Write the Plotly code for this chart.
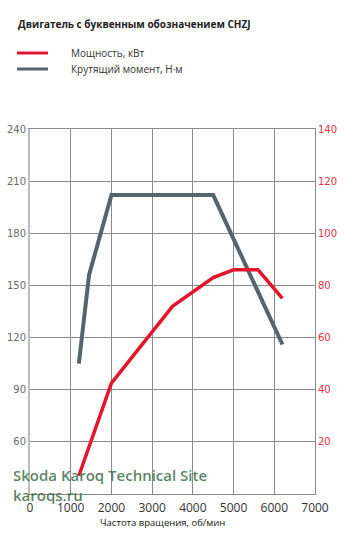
import plotly.graph_objects as go

# Data
power_rpm = [1200, 2000, 3500, 4000, 4500, 5000, 5600, 6200]
power_kw = [7, 42.5, 72, 77.5, 83, 86, 86, 75]

torque_rpm = [1200, 1450, 2000, 4500, 6200]
torque_nm = [105, 156, 202, 202, 116]

x_ticks = [0, 1000, 2000, 3000, 4000, 5000, 6000, 7000]
left_ticks = [60, 90, 120, 150, 180, 210, 240]
right_ticks = [20, 40, 60, 80, 100, 120, 140]

RED = "#e3152f"
GRAY = "#56646c"
GRID = "#8a8a8a"
GREEN = "rgba(60,110,70,0.85)"

PW, PH, ML, MB = 285, 365, 30, 42
H = 536


def px_x(p):
    return (p - ML) / PW


def px_y(p):
    return (H - MB - p) / PH


fig = go.Figure()
traces = [
    (power_rpm, power_kw, "y2", "Мощность, кВт", RED, 3.5),
    (torque_rpm, torque_nm, "y", "Крутящий момент, Н·м", GRAY, 4),
]
for xs, ys, ax, name, col, w in traces:
    fig.add_trace(go.Scatter(x=xs, y=ys, yaxis=ax, mode="lines", name=name,
                             line=dict(color=col, width=w), showlegend=False))

shapes = []
annotations = []
for i, (xs, ys, ax, name, col, w) in enumerate(traces):
    yy = px_y(53 + 16 * i)
    shapes.append(dict(type="line", xref="paper", yref="paper",
                       x0=px_x(17), x1=px_x(48), y0=yy, y1=yy,
                       line=dict(color=col, width=3)))
    annotations.append(dict(text=name, xref="paper", yref="paper", x=px_x(69), y=yy,
                            xanchor="left", yanchor="middle", showarrow=False,
                            font=dict(family="Open Sans", size=10, color="#333")))

annotations += [
    dict(text="<b>Двигатель с буквенным обозначением CHZJ</b>", xref="paper", yref="paper",
         x=px_x(16), y=px_y(24), xanchor="left", yanchor="middle", showarrow=False,
         font=dict(family="Open Sans", size=10, color="#222")),
    dict(text="Частота вращения, об/мин", xref="paper", yref="paper",
         x=px_x(162), y=px_y(522), xanchor="center", yanchor="middle",
         showarrow=False, font=dict(family="Open Sans", size=9.5, color="#111")),
    dict(text="Skoda Karoq Technical Site<br>karoqs.ru", xref="paper", yref="paper",
         x=px_x(11), y=px_y(485), xanchor="left", yanchor="middle", align="left",
         showarrow=False, font=dict(family="Open Sans", size=15, weight=600, color=GREEN)),
]

fig.update_layout(
    width=347, height=H,
    margin=dict(l=ML, r=32, t=129, b=MB, autoexpand=False),
    paper_bgcolor="white", plot_bgcolor="white",
    font=dict(family="Open Sans", color="#333"),
    showlegend=False,
    xaxis=dict(range=[0, 7000], tickvals=x_ticks, ticktext=[str(v) for v in x_ticks],
               showgrid=True, gridcolor=GRID, gridwidth=1,
               showline=True, linecolor=GRID, linewidth=1, mirror=True,
               zeroline=False, ticks="", ticklabelstandoff=3,
               tickfont=dict(family="Open Sans", size=12, color="#333")),
    yaxis=dict(range=[30, 240], tickvals=left_ticks, showgrid=True, gridcolor=GRID,
               gridwidth=1, showline=True, linecolor="#bdbdbd", linewidth=2,
               zeroline=False, ticks="",
               tickfont=dict(family="DejaVu Sans", size=10, color="#6a6a6a")),
    yaxis2=dict(range=[0, 140], tickvals=right_ticks, overlaying="y", side="right",
                showgrid=False, showline=True, linecolor=GRID, linewidth=1,
                zeroline=False, ticks="",
                tickfont=dict(family="DejaVu Sans", size=10, color="#e8303f")),
    shapes=shapes,
    annotations=annotations,
)

fig.write_html("out.html")
